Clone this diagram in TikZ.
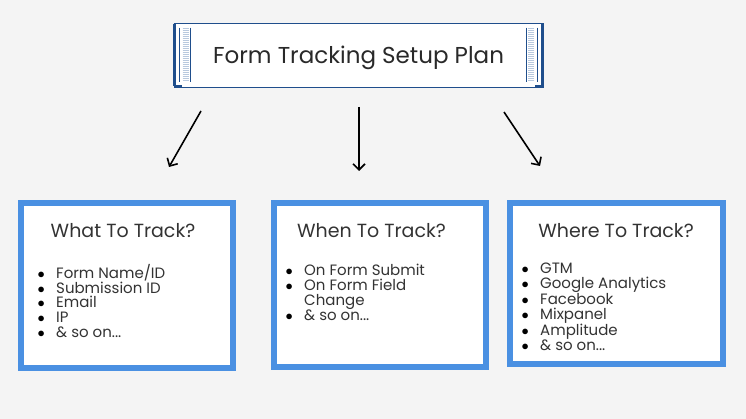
\documentclass[tikz,border=0pt]{standalone}
\usepackage{fontspec}
\setmainfont{Poppins}
\usetikzlibrary{arrows.meta, positioning, calc}
\definecolor{PageGrey}{HTML}{F4F4F4}
\definecolor{BoxBlue}{HTML}{4A90E2}
\definecolor{FrameNavy}{HTML}{1F4E8C}
\definecolor{HatchBlue}{HTML}{B8C9DE}
\definecolor{InkGrey}{HTML}{333333}
\newcommand{\itm}{\llap{\makebox[0pt][c]{\textcolor{black}{$\bullet$}}\hspace{15pt}}}

\begin{document}
\begin{tikzpicture}[x=1pt, y=-1pt,
    trackbox/.style={draw=BoxBlue, line width=6pt, fill=white, minimum width=212pt, minimum height=164pt, inner sep=0pt},
    boxtitle/.style={text=InkGrey, font=\fontsize{19}{22}\selectfont, inner sep=0pt},
    itemlist/.style={align=left, anchor=north west, inner sep=0pt, text=InkGrey, font=\fontsize{15}{14.8}\selectfont},
    pointer/.style={-{Straight Barb[length=6pt,width=12pt]}, line width=1.6pt}]

    % Background
    \fill[PageGrey] (0,0) rectangle (746,419);

    % Title frame
    \node (plan) [draw=FrameNavy, line width=0.8pt, fill=white, minimum width=369pt, minimum height=64pt,
        text depth=0pt, text=InkGrey!80!black, font=\fontsize{23}{26}\selectfont] at (358.5,55) {Form Tracking Setup Plan};
    \draw[FrameNavy, line width=2.5pt] ($(plan.north west)+(1,1)$) -- ($(plan.south west)+(1,-1)$);
    \draw[FrameNavy, line width=2.5pt] ($(plan.north east)+(-1,1)$) -- ($(plan.south east)+(-1,-1)$);
    \foreach \side/\dir in {west/1, east/-1} {
        \draw[FrameNavy, line width=1.8pt] ($(plan.north \side)+(0,1)$) -- ++(8*\dir,0);
        \draw[FrameNavy, line width=1.8pt] ($(plan.south \side)+(0,-1)$) -- ++(8*\dir,0);
        \draw[FrameNavy, line width=0.4pt] ($(plan.north \side)+(6*\dir,5)$) -- ++(0,54);
        \draw[FrameNavy, line width=0.4pt] ($(plan.north \side)+(17*\dir,5)$) -- ++(0,54);
        \foreach \k in {0,...,26}
            \draw[HatchBlue, line width=1.1pt] ($(plan.north \side)+(9*\dir,6+2*\k)$) -- ++(6*\dir,0);
    }

    % Boxes
    \node (what) [trackbox] at (127,285.5) {};
    \node (when) [trackbox] at (380,285) {};
    \node (where) [trackbox, minimum height=161pt, minimum width=213pt] at (616.5,283.5) {};

    % Box titles
    \node (whattitle) [boxtitle] at (123,231) {What To Track?};
    \node (whentitle) [boxtitle] at (371.5,231) {When To Track?};
    \node (wheretitle) [boxtitle] at (616,231) {Where To Track?};

    % Lists
    \node (whatlist) [itemlist] at (56,264) {\itm Form Name/ID\\ \itm Submission ID\\ \itm Email\\ \itm IP\\ \itm \& so on...};
    \node (whenlist) [itemlist] at (304,264) {\itm On Form Submit\\ \itm On Form Field\\ Change\\ \itm \& so on...};
    \node (wherelist) [itemlist] at (540,263) {\itm GTM\\ \itm Google Analytics\\ \itm Facebook\\ \itm Mixpanel\\ \itm Amplitude\\ \itm \& so on...};

    % Arrows
    \coordinate (a1s) at (201,111);
    \coordinate (a1e) at (169,167);
    \coordinate (a2s) at (359,107);
    \coordinate (a2e) at (359,171);
    \coordinate (a3s) at (504,112);
    \coordinate (a3e) at (540,166);
    \draw[pointer] (a1s) -- (a1e);
    \draw[pointer] (a2s) -- (a2e);
    \draw[pointer] (a3s) -- (a3e);
\end{tikzpicture}
\end{document}
